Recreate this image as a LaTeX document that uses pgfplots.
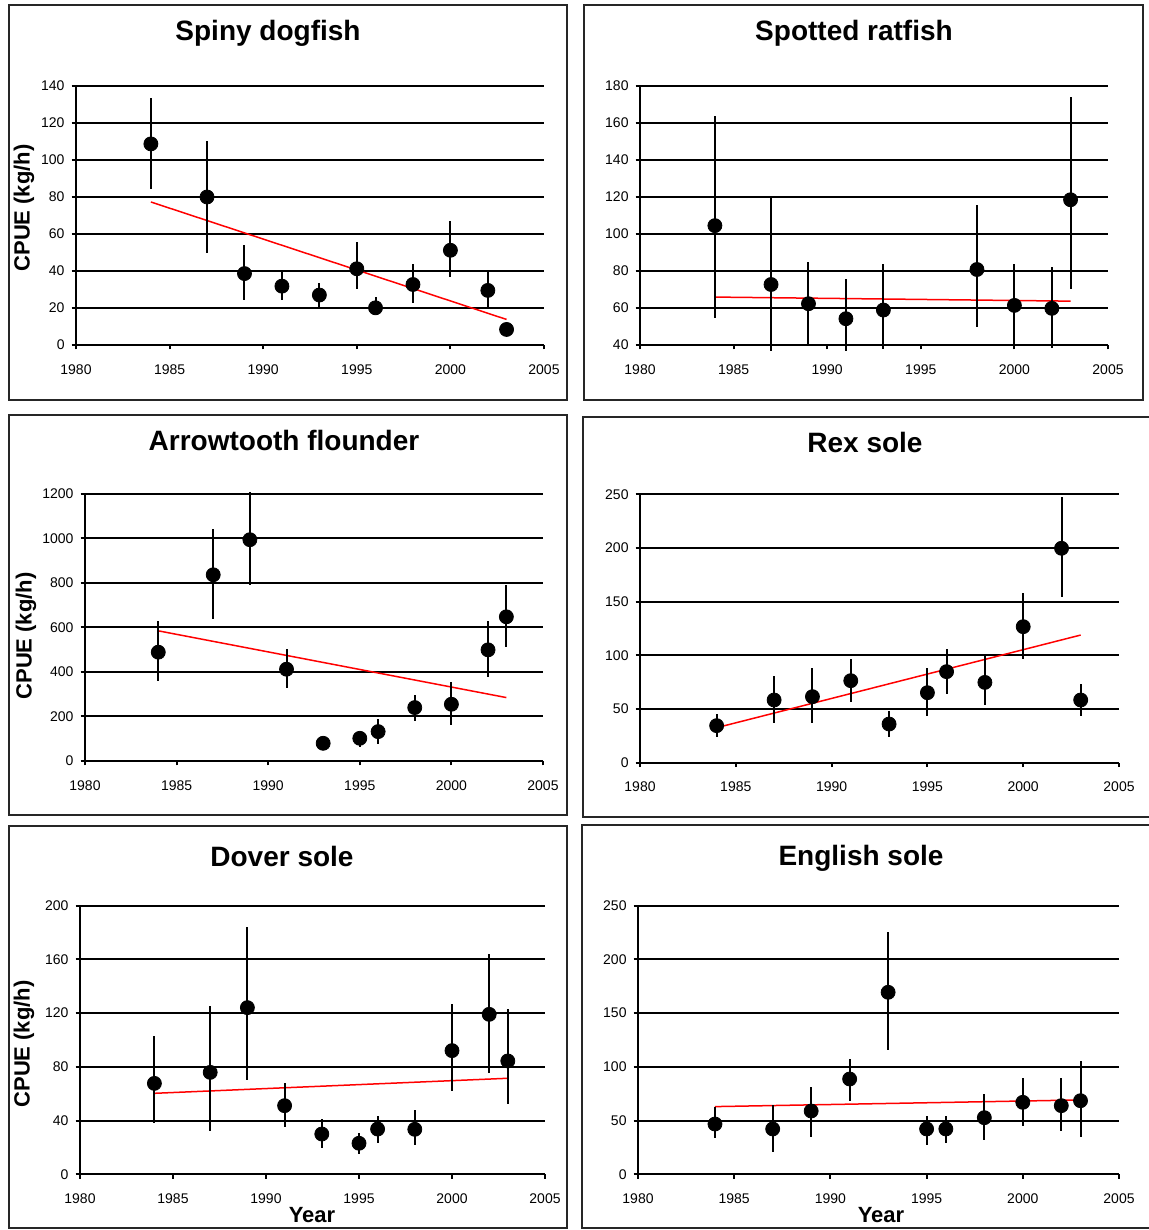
\documentclass[border=0pt]{standalone}
\usepackage{pgfplots}
\pgfplotsset{compat=1.18}
\usepackage{fontspec}
\setmainfont{Liberation Sans}
\definecolor{trendred}{HTML}{FF0000}
\pgfplotsset{panel/.style={
  scale only axis, anchor=south west,
  xmin=1980, xmax=2005, xtick={1980,1985,1990,1995,2000,2005},
  axis x line=bottom, axis y line=left,
  axis line style={-, line width=1pt, black},
  tick style={black, line width=1pt}, tick align=outside, major tick length=2.2pt,
  ymajorgrids, grid style={black, line width=1pt},
  scaled ticks=false,
  /pgf/number format/1000 sep={}, /pgf/number format/assume math mode=true,
  tick label style={font=\fontsize{7}{8}\selectfont},
  xticklabel style={yshift=-4pt},
  clip=false,
 },
 pts/.style={only marks, mark=*, black, mark size=3.5pt,
  error bars/.cd, y dir=both, y explicit, error mark=none,
  error bar style={line width=1pt, black}},
 trend/.style={trendred, line width=0.75pt, no marks},
}
\begin{document}
\begin{tikzpicture}
\begin{scope}[shift={(0pt,615pt)}, x=0.5pt, y=-0.5pt]
\useasboundingbox (0,0) rectangle (1149,1230);
\fill[white] (0,0) rectangle (1149,1230);
\draw[line width=0.8pt, black!85] (9,5) rectangle (567,400);
\draw[line width=0.8pt, black!85] (584,5) rectangle (1143,400);
\draw[line width=0.8pt, black!85] (9,415) rectangle (567,815);
\draw[line width=0.8pt, black!85] (1152,417) -- (583,417) -- (583,817) -- (1152,817);
\draw[line width=0.8pt, black!85] (9,826) rectangle (567,1228);
\draw[line width=0.8pt, black!85] (1152,825) -- (582,825) -- (582,1228) -- (1152,1228);
\begin{scope}[font=\fontsize{14}{16}\selectfont\bfseries]
\node at (268,33) {Spiny dogfish};
\node at (854,33) {Spotted ratfish};
\node at (284,441) {Arrowtooth flounder};
\node at (865,443) {Rex sole};
\node at (282,856) {Dover sole};
\node at (861,858) {English sole};
\end{scope}
\begin{scope}[font=\fontsize{11}{13}\selectfont\bfseries]
\node[rotate=90] at (24,208) {CPUE (kg/h)};
\node[rotate=90] at (26,636) {CPUE (kg/h)};
\node[rotate=90] at (24,1044) {CPUE (kg/h)};
\node at (312,1215) {Year};
\node at (881,1215) {Year};
\end{scope}
\end{scope}

% Spiny dogfish
\begin{axis}[panel, at={(38pt,442.5pt)}, width=234pt, height=129.5pt,
  ymin=0, ymax=140, ytick={0,20,...,140}]
\addplot[trend] coordinates {(1984,77.3) (2003,13.8)};
\addplot[pts] table[x=x, y=y, y error plus=ep, y error minus=em] {
x y ep em
1984 108.7 24.7 24.4
1987 80.0 30.5 30.2
1989 38.6 15.7 14.3
1991 31.8 8.1 7.5
1993 27.0 6.6 6.9
1995 41.2 14.3 11.2
1996 20.1 5.8 3.6
1998 32.7 11.3 10.2
2000 51.2 15.7 14.4
2002 29.5 10.4 9.4
2003 8.4 2.6 2.4
};
\end{axis}

% Spotted ratfish
\begin{axis}[panel, at={(320pt,442.5pt)}, width=234pt, height=129.5pt,
  ymin=40, ymax=180, ytick={40,60,...,180}]
\addplot[trend] coordinates {(1984,65.9) (2003,63.7)};
\addplot[pts] table[x=x, y=y, y error plus=ep, y error minus=em] {
x y ep em
1984 104.5 59.5 49.8
1987 72.7 46.7 35.9
1989 62.3 22.6 22.3
1991 54.2 21.2 17.4
1993 58.9 25.1 21.2
1998 80.8 34.7 30.9
2000 61.4 22.6 21.4
2002 59.8 22.4 21.2
2003 118.5 55.8 48.5
};
\end{axis}

% Arrowtooth flounder
\begin{axis}[panel, at={(42.5pt,234.5pt)}, width=229pt, height=133.5pt,
  ymin=0, ymax=1200, ytick={0,200,...,1200}]
\addplot[trend] coordinates {(1984,585) (2003,285)};
\addplot[pts] table[x=x, y=y, y error plus=ep, y error minus=em] {
x y ep em
1984 489 141 127.5
1987 837 207 198
1989 994.5 214.5 202.5
1991 412.5 91.5 82.5
1993 79.5 15 15
1995 102 22.5 37.5
1996 132 55.5 57
1998 240 57 60
2000 255 99 93
2002 499.5 130.5 120
2003 648 141 136.5
};
\end{axis}

% Rex sole
\begin{axis}[panel, at={(320pt,233.65pt)}, width=239.5pt, height=134.2pt,
  ymin=0, ymax=250, ytick={0,50,...,250}]
\addplot[trend] coordinates {(1984,32.6) (2003,118.9)};
\addplot[pts] table[x=x, y=y, y error plus=ep, y error minus=em] {
x y ep em
1984 34.5 10.5 10.3
1987 58.4 22.7 21.1
1989 61.5 26.4 24.2
1991 76.4 19.9 19.6
1993 36.0 12.1 11.8
1995 65.2 22.7 21.4
1996 84.8 21.1 21.1
1998 74.8 25.5 21.1
2000 126.7 31.7 30.4
2002 199.7 47.5 45.7
2003 58.4 14.6 14.6
};
\end{axis}

% Dover sole
\begin{axis}[panel, at={(40pt,27.85pt)}, width=232.5pt, height=134.3pt,
  ymin=0, ymax=200, ytick={0,40,...,200}]
\addplot[trend] coordinates {(1984,60.3) (2003,71.5)};
\addplot[pts] table[x=x, y=y, y error plus=ep, y error minus=em] {
x y ep em
1984 67.7 35.5 29.7
1987 75.9 49.7 43.6
1989 124.1 60.3 53.9
1991 51.1 16.6 16.1
1993 30.0 10.9 10.6
1995 23.1 7.4 8.0
1996 33.7 10.0 10.6
1998 33.5 14.4 11.7
2000 92.1 34.7 29.8
2002 119.1 44.7 43.4
2003 84.4 38.7 32.3
};
\end{axis}

% English sole
\begin{axis}[panel, at={(319pt,27.85pt)}, width=240.5pt, height=134.3pt,
  ymin=0, ymax=250, ytick={0,50,...,250}]
\addplot[trend] coordinates {(1984,63.0) (2003,69.2)};
\addplot[pts] table[x=x, y=y, y error plus=ep, y error minus=em] {
x y ep em
1984 46.8 16.2 13.3
1987 42.2 22.3 21.7
1989 58.9 22.1 23.9
1991 88.7 18.6 20.5
1993 169.4 56.4 53.7
1995 42.2 12.4 14.9
1996 42.2 12.4 13.4
1998 52.7 22.1 20.8
2000 67.0 22.3 21.7
2002 63.9 25.4 23.6
2003 68.5 37.0 33.5
};
\end{axis}
\end{tikzpicture}
\end{document}
